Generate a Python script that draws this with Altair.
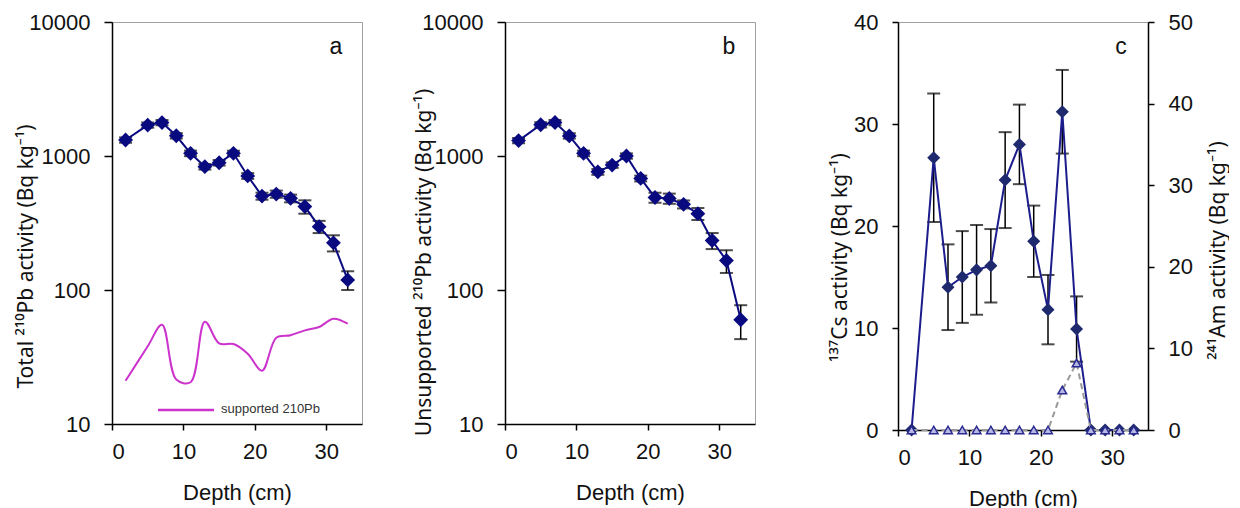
import altair as alt
import pandas as pd

# ---------------- data ----------------
depth = [1.9, 5, 7, 9, 11, 13, 15, 17, 19, 21, 23, 25, 27, 29, 31, 33]
total = [1316, 1702, 1775, 1416, 1047, 832, 891, 1047, 710, 502, 520, 483, 419, 297, 225, 119]
total_err = [60, 75, 80, 65, 50, 40, 42, 48, 35, 30, 32, 32, 48, 31, 31, 19]
supported = [21, 38, 55, 21.5, 20.5, 58, 40, 39.5, 33.5, 25, 44, 46, 50, 53, 61, 56]
unsupported = [1303, 1710, 1778, 1413, 1047, 762, 855, 1000, 680, 490, 482, 436, 371, 234, 166, 60]
unsup_err = [60, 75, 80, 65, 50, 38, 40, 46, 34, 42, 42, 30, 38, 32, 32, 17]
cs = [0, 26.7, 14.0, 15.0, 15.7, 16.1, 24.5, 28.0, 18.5, 11.8, 31.2, 9.9, 0, 0, 0, 0]
cs_err = [0, 6.3, 4.2, 4.5, 4.4, 3.6, 4.7, 3.9, 3.5, 3.4, 4.1, 3.2, 0, 0, 0, 0]
am = [0, 0, 0, 0, 0, 0, 0, 0, 0, 0, 4.9, 8.2, 0, 0, 0, 0]
log_ticks = [10, 100, 1000, 10000]
depth_ticks = [0, 10, 20, 30]

FONT = "Liberation Sans"
TFONT = "Noto Sans"
NAVY = "#0a0a80"
W = 250
H_AB = 402
H_C = 408

df = pd.DataFrame({
    "depth": depth, "total": total, "total_err": total_err, "supported": supported,
    "unsup": unsupported, "unsup_err": unsup_err, "cs": cs, "cs_err": cs_err, "am": am,
})
df["t_lo"] = df["total"] - df["total_err"]
df["t_hi"] = df["total"] + df["total_err"]
df["u_lo"] = df["unsup"] - df["unsup_err"]
df["u_hi"] = df["unsup"] + df["unsup_err"]
df["c_lo"] = df["cs"] - df["cs_err"]
df["c_hi"] = df["cs"] + df["cs_err"]
df_cs_err = df[df["cs_err"] > 0]
one = pd.DataFrame({"k": [0]})

xscale = alt.Scale(domain=[0, 35], nice=False, zero=False)
xaxis = alt.Axis(values=depth_ticks, title="Depth (cm)", tickSize=6, labelPadding=11,
                 titlePadding=20)
X = alt.X("depth:Q", scale=xscale, axis=xaxis)
logscale = alt.Scale(type="log", domain=[10, 10000], nice=False)


def ylog(field, title, title_x, title_y):
    return alt.Y(field, type="quantitative", scale=logscale,
                 axis=alt.Axis(values=log_ticks, format="d", title=title, tickSize=8,
                               labelPadding=14, titleX=title_x, titleY=title_y,
                               titleAngle=270, titleBaseline="bottom", titleAlign="center",
                               titleFont=TFONT, titleFontSize=21))


def log_panel(val, lo, hi, title, title_x, title_y, letter):
    Y = ylog(val, title, title_x, title_y)
    Ylo = ylog(lo, title, title_x, title_y)
    Yhi = ylog(hi, title, title_x, title_y)
    base = alt.Chart(df)
    rule = base.mark_rule(color="black", strokeWidth=1.5).encode(x=X, y=Ylo, y2=alt.Y2(hi))
    cap_lo = base.mark_tick(orient="horizontal", size=13, thickness=2, color="black").encode(x=X, y=Ylo)
    cap_hi = base.mark_tick(orient="horizontal", size=13, thickness=2, color="black").encode(x=X, y=Yhi)
    line = base.mark_line(color=NAVY, strokeWidth=2).encode(x=X, y=Y)
    pts = base.mark_point(shape="diamond", filled=True, size=220, color=NAVY, opacity=1).encode(x=X, y=Y)
    lab = alt.Chart(one).mark_text(text=letter, font=FONT, fontSize=23, color="#111").encode(
        x=alt.value(224), y=alt.value(25))
    return [rule, cap_lo, cap_hi, line, pts, lab], Y


# ---------------- panel a ----------------
TA = "Total ²¹⁰Pb activity (Bq kg⁻¹)"
layers_a, Ya = log_panel("total", "t_lo", "t_hi", TA, -76, 234, "a")
sup_line = alt.Chart(df).mark_line(color="#CC33CC", strokeWidth=2, interpolate="catmull-rom").encode(
    x=X, y=ylog("supported", TA, -76, 234))
leg_line = alt.Chart(one).mark_rule(color="#CC33CC", strokeWidth=2.5).encode(
    x=alt.value(46), x2=alt.value(102), y=alt.value(388))
leg_text = alt.Chart(one).mark_text(text="supported 210Pb", font=FONT, fontSize=13, align="left",
                                    baseline="middle", color="#333").encode(
    x=alt.value(109), y=alt.value(387))
panel_a = alt.layer(sup_line, *layers_a, leg_line, leg_text).properties(width=W, height=H_AB)

# ---------------- panel b ----------------
layers_b, Yb = log_panel("unsup", "u_lo", "u_hi", "Unsupported ²¹⁰Pb activity (Bq kg⁻¹)", -71, 240, "b")
panel_b = alt.layer(*layers_b).properties(width=W, height=H_AB)

# ---------------- panel c ----------------
cs_axis = alt.Axis(values=[0, 10, 20, 30, 40], title="¹³⁷Cs activity (Bq kg⁻¹)", tickSize=6,
                   labelPadding=14, titleX=-48, titleY=235, titleAngle=270,
                   titleBaseline="bottom", titleAlign="center", titleFont=TFONT, titleFontSize=21)
cs_scale = alt.Scale(domain=[0, 40], nice=False)


def ycs(field):
    return alt.Y(field, type="quantitative", scale=cs_scale, axis=cs_axis)


CSC = "#1c1c8c"
cbase = alt.Chart(df)
cs_rule = alt.Chart(df_cs_err).mark_rule(color="black", strokeWidth=1.5).encode(
    x=X, y=ycs("c_lo"), y2=alt.Y2("c_hi"))
cs_cap_lo = alt.Chart(df_cs_err).mark_tick(orient="horizontal", size=13, thickness=2, color="black").encode(
    x=X, y=ycs("c_lo"))
cs_cap_hi = alt.Chart(df_cs_err).mark_tick(orient="horizontal", size=13, thickness=2, color="black").encode(
    x=X, y=ycs("c_hi"))
cs_line = cbase.mark_line(color=CSC, strokeWidth=2).encode(x=X, y=ycs("cs"))
cs_pts = cbase.mark_point(shape="diamond", filled=True, size=170, color="#1f2a6e", opacity=1).encode(
    x=X, y=ycs("cs"))
c_lab = alt.Chart(one).mark_text(text="c", font=FONT, fontSize=23, color="#111").encode(
    x=alt.value(223), y=alt.value(25))
cs_group = alt.layer(cs_rule, cs_cap_lo, cs_cap_hi, cs_line, cs_pts, c_lab)

am_axis = alt.Axis(values=[0, 10, 20, 30, 40, 50], title="²⁴¹Am activity (Bq kg⁻¹)", orient="right",
                   tickSize=6, labelPadding=14, titleX=59, titleY=228, titleAngle=270,
                   titleBaseline="top", titleAlign="center", titleFont=TFONT, titleFontSize=21)
Yam = alt.Y("am:Q", scale=alt.Scale(domain=[0, 50], nice=False), axis=am_axis)
am_line = cbase.mark_line(color="#999999", strokeWidth=2, strokeDash=[6, 4]).encode(x=X, y=Yam)
am_pts = cbase.mark_point(shape="triangle-up", filled=True, size=75, fill="#b8b8e6",
                          stroke="#2a2a90", strokeWidth=1.5, opacity=1).encode(x=X, y=Yam)
am_group = alt.layer(am_line, am_pts)

panel_c = alt.layer(cs_group, am_group).resolve_scale(y="independent").properties(width=W, height=H_C)

chart = alt.hconcat(panel_a, panel_b, panel_c, spacing=143, bounds="flush").properties(
    padding={"left": 6, "top": 2, "right": 0, "bottom": 0}
).configure_axis(
    labelFont=FONT, labelFontSize=22, titleFont=FONT, titleFontSize=22,
    labelColor="#111", titleColor="#111", titleFontWeight="normal",
    domainColor="black", tickColor="black", domainWidth=1.5, tickWidth=1.5, grid=False,
).configure_view(stroke="#a0a0a0", strokeWidth=1)

chart.save("out.html", embed_options={"renderer": "svg", "actions": False})
